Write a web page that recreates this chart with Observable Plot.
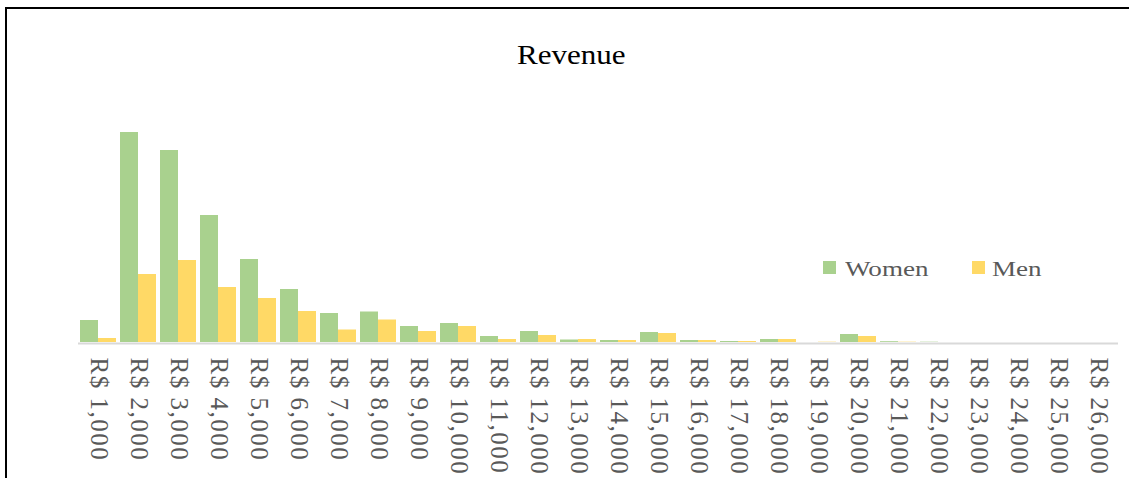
<!DOCTYPE html>
<html>
<head>
<meta charset="utf-8">
<script src="https://cdn.jsdelivr.net/npm/d3@7"></script>
<script src="https://cdn.jsdelivr.net/npm/@observablehq/plot@0.6"></script>
<style>
  html, body { margin: 0; padding: 0; background: #fff; }
  #wrap { position: relative; width: 1129px; height: 478px; overflow: hidden; background: #fff; }
  #frame { position: absolute; left: 5px; top: 7px; width: 1130px; height: 480px;
           border-left: 2px solid #000; border-top: 2px solid #000; box-sizing: border-box; }
  #chart { position: absolute; left: 0; top: 0; }
  .txt { position: absolute; font-family: "Liberation Serif", "Times New Roman", serif; white-space: nowrap; transform-origin: 0 0; }
  #title { font-size: 27px; line-height: 27px; color: #000; }
  .leg { font-size: 22px; line-height: 22px; color: #595959; }
  .sw { position: absolute; width: 13px; height: 13px; }
</style>
</head>
<body>
<div id="wrap">
  <div id="chart"></div>
  <div id="frame"></div>
  <div id="title" class="txt">Revenue</div>
  <div class="sw" style="left:823px; top:261px; background:#A9D18E"></div>
  <div class="txt leg" style="left:845px; top:257.5px; transform: scaleX(1.23)">Women</div>
  <div class="sw" style="left:972px; top:261px; background:#FFD966"></div>
  <div class="txt leg" style="left:992px; top:257.5px; transform: scaleX(1.23)">Men</div>
</div>
<script>
const categories = ["R$ 1,000","R$ 2,000","R$ 3,000","R$ 4,000","R$ 5,000","R$ 6,000","R$ 7,000",
  "R$ 8,000","R$ 9,000","R$ 10,000","R$ 11,000","R$ 12,000","R$ 13,000","R$ 14,000","R$ 15,000",
  "R$ 16,000","R$ 17,000","R$ 18,000","R$ 19,000","R$ 20,000","R$ 21,000","R$ 22,000","R$ 23,000",
  "R$ 24,000","R$ 25,000","R$ 26,000"];
const women = [22, 210, 192, 127, 83, 53, 29, 30.5, 16, 19, 6, 11, 2.5, 2, 10, 2, 1, 3, 0, 8, 0.8, 0.3, 0, 0, 0, 0];
const men   = [4, 68, 82, 55, 44, 31, 12.5, 22.5, 11, 16, 3, 7, 3, 2, 9, 2, 1, 3, 0.3, 6, 0.3, 0, 0, 0, 0, 0];
const seriesNames = ["Women", "Men"];
const seriesColors = ["#A9D18E", "#FFD966"];

const womenData = categories.map((c, i) => ({cat: c, value: women[i]}));
const menData = categories.map((c, i) => ({cat: c, value: men[i]}));

const chart = Plot.plot({
  width: 1129,
  height: 478,
  marginLeft: 78,
  marginRight: 11,
  marginTop: 62,
  marginBottom: 136,
  style: {fontFamily: "'Liberation Serif', 'Times New Roman', serif", fontSize: "25px", color: "#595959", background: "transparent", letterSpacing: "1.5px"},
  x: {domain: categories, paddingInner: 0.55, paddingOuter: 0.275, label: null, tickSize: 0, tickPadding: 15, tickRotate: 90},
  y: {domain: [0, 280], axis: null},
  marks: [
    Plot.ruleY([0], {stroke: "#d9d9d9", strokeWidth: 2, dy: 1}),
    Plot.barY(womenData, {x: "cat", y: "value", fill: seriesColors[0], dx: -9}),
    Plot.barY(menData, {x: "cat", y: "value", fill: seriesColors[1], dx: 9})
  ]
});
document.getElementById("chart").appendChild(chart);

// title position: centered around x≈571
const t = document.getElementById("title");
t.style.top = "41.5px";
const w = t.getBoundingClientRect().width;
t.style.transform = "scaleX(1.15)";
t.style.left = (571 - w * 1.15 / 2) + "px";
</script>
</body>
</html>
